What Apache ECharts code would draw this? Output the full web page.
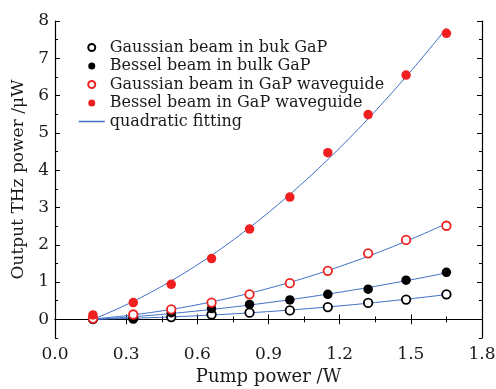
<!DOCTYPE html>
<html>
<head>
<meta charset="utf-8">
<script src="https://cdn.jsdelivr.net/npm/echarts@6/dist/echarts.min.js"></script>
<style>
html, body { margin: 0; padding: 0; background: #fff; }
#chart { width: 496px; height: 389px; }
</style>
</head>
<body>
<div id="chart"></div>
<script>
// Pump power (W) at each measurement
const pumpPower = [0.16, 0.33, 0.49, 0.66, 0.82, 0.99, 1.15, 1.32, 1.48, 1.65];
// Output THz power (uW)
const gaussBulk = [0.01, 0.02, 0.06, 0.13, 0.18, 0.24, 0.33, 0.44, 0.53, 0.67];
const besselBulk = [0.00, 0.03, 0.18, 0.29, 0.40, 0.52, 0.67, 0.81, 1.05, 1.26];
const gaussGuide = [0.02, 0.13, 0.27, 0.45, 0.67, 0.97, 1.30, 1.77, 2.13, 2.51];
const besselGuide = [0.12, 0.45, 0.94, 1.63, 2.42, 3.28, 4.47, 5.49, 6.55, 7.67];

const seriesNames = [
  'Gaussian beam in buk GaP',
  'Bessel beam in bulk GaP',
  'Gaussian beam in GaP waveguide',
  'Bessel beam in GaP waveguide'
];
const fitName = 'quadratic fitting';

const yTicks = [0, 1, 2, 3, 4, 5, 6, 7, 8];
const yMinorTicks = [-0.5, 0.5, 1.5, 2.5, 3.5, 4.5, 5.5, 6.5, 7.5];

const RED = '#f02020';
const BLUE = '#3f6fc6';
const INK = '#1a1a1a';
const FONT = 'DejaVu Serif';

// Least-squares quadratic y = a + b x + c x^2
function quadFit(xs, ys) {
  let s = [0, 0, 0, 0, 0], t = [0, 0, 0];
  for (let i = 0; i < xs.length; i++) {
    let p = 1;
    for (let k = 0; k < 5; k++) { s[k] += p; if (k < 3) t[k] += p * ys[i]; p *= xs[i]; }
  }
  const M = [[s[0], s[1], s[2], t[0]], [s[1], s[2], s[3], t[1]], [s[2], s[3], s[4], t[2]]];
  for (let i = 0; i < 3; i++) {
    for (let j = i + 1; j < 3; j++) {
      const f = M[j][i] / M[i][i];
      for (let k = i; k < 4; k++) M[j][k] -= f * M[i][k];
    }
  }
  const c = [0, 0, 0];
  for (let i = 2; i >= 0; i--) {
    let v = M[i][3];
    for (let k = i + 1; k < 3; k++) v -= M[i][k] * c[k];
    c[i] = v / M[i][i];
  }
  return c;
}

// Fitted curve over the measured pump range
function fitCurve(ys) {
  const c = quadFit(pumpPower, ys);
  const x0 = pumpPower[0], x1 = pumpPower[pumpPower.length - 1];
  const pts = [];
  const n = 80;
  for (let i = 0; i <= n; i++) {
    const x = x0 + (x1 - x0) * i / n;
    pts.push([x, c[0] + c[1] * x + c[2] * x * x]);
  }
  return pts;
}

function pairs(ys) { return pumpPower.map((x, i) => [x, ys[i]]); }

const allSets = [gaussBulk, besselBulk, gaussGuide, besselGuide];
const markerStyles = [
  { color: '#ffffff', borderColor: '#000000', borderWidth: 1.8, opacity: 1 },
  { color: '#000000', opacity: 1 },
  { color: '#ffffff', borderColor: RED, borderWidth: 1.8, opacity: 1 },
  { color: RED, opacity: 1 }
];
const markerSizes = [8.5, 9.5, 8.5, 9.5];

const series = [];
allSets.forEach((ys) => {
  series.push({
    name: fitName, type: 'line', data: fitCurve(ys), symbol: 'none',
    lineStyle: { color: BLUE, width: 1 }, itemStyle: { color: BLUE },
    z: 2, silent: true
  });
});
allSets.forEach((ys, i) => {
  series.push({
    name: seriesNames[i], type: 'scatter', data: pairs(ys),
    symbol: 'circle', symbolSize: markerSizes[i],
    itemStyle: markerStyles[i], z: 5
  });
});

const axisLine = { show: true, lineStyle: { color: '#000', width: 1.2 } };
const tickStyle = { color: '#000', width: 1 };

const chart = echarts.init(document.getElementById('chart'), null, { renderer: 'canvas' });
chart.setOption({
  animation: false,
  backgroundColor: '#ffffff',
  grid: { left: 55, right: 14, top: 21, bottom: 51, containLabel: false, outerBoundsMode: 'none' },
  legend: {
    orient: 'vertical', left: 78, top: 39.5, padding: 0,
    itemWidth: 26, itemHeight: 7, itemGap: 2.5,
    selectedMode: false,
    textStyle: { fontFamily: FONT, fontSize: 16, color: INK, lineHeight: 15.5 },
    data: seriesNames.map((n) => ({ name: n })).concat([{
      name: fitName,
      itemStyle: { opacity: 0 },
      lineStyle: { color: BLUE, width: 1.5, opacity: 1 }
    }])
  },
  xAxis: [
    {
      type: 'value', position: 'bottom', min: 0, max: 1.8, interval: 0.3,
      axisLine: axisLine,
      axisTick: { inside: true, length: 5, lineStyle: tickStyle },
      minorTick: { show: true, splitNumber: 2, length: 3, lineStyle: tickStyle },
      splitLine: { show: false },
      axisLabel: { fontFamily: FONT, fontSize: 17, color: INK, margin: 8,
        formatter: (v) => v.toFixed(1) },
      name: 'Pump power /W', nameLocation: 'middle', nameGap: 29,
      nameTextStyle: { fontFamily: FONT, fontSize: 18, color: INK }
    },
    {
      type: 'value', position: 'top', min: 0, max: 1.8, interval: 0.3,
      axisLine: axisLine,
      axisTick: { inside: true, length: 5, lineStyle: tickStyle },
      minorTick: { show: true, splitNumber: 2, length: 3, lineStyle: tickStyle },
      splitLine: { show: false }, axisLabel: { show: false }
    }
  ],
  yAxis: [
    {
      type: 'value', position: 'left', min: -0.5, max: 8,
      axisLine: axisLine,
      axisTick: { inside: true, length: 5, lineStyle: tickStyle, customValues: yTicks },
      axisLabel: { fontFamily: FONT, fontSize: 17, color: INK, margin: 6, customValues: yTicks },
      splitLine: { show: false },
      name: 'Output THz power /\u03bcW', nameLocation: 'middle', nameGap: 26,
      nameTextStyle: { fontFamily: FONT, fontSize: 17, color: INK }
    },
    {
      type: 'value', position: 'left', min: -0.5, max: 8,
      axisLine: { show: false },
      axisTick: { inside: true, length: 3, lineStyle: tickStyle, customValues: yMinorTicks },
      axisLabel: { show: false }, splitLine: { show: false }
    },
    {
      type: 'value', position: 'right', min: -0.5, max: 8,
      axisLine: axisLine,
      axisTick: { inside: true, length: 5, lineStyle: tickStyle, customValues: yTicks },
      axisLabel: { show: false }, splitLine: { show: false }
    },
    {
      type: 'value', position: 'right', min: -0.5, max: 8,
      axisLine: { show: false },
      axisTick: { inside: true, length: 3, lineStyle: tickStyle, customValues: yMinorTicks },
      axisLabel: { show: false }, splitLine: { show: false }
    }
  ],
  series: series
});
</script>
</body>
</html>
